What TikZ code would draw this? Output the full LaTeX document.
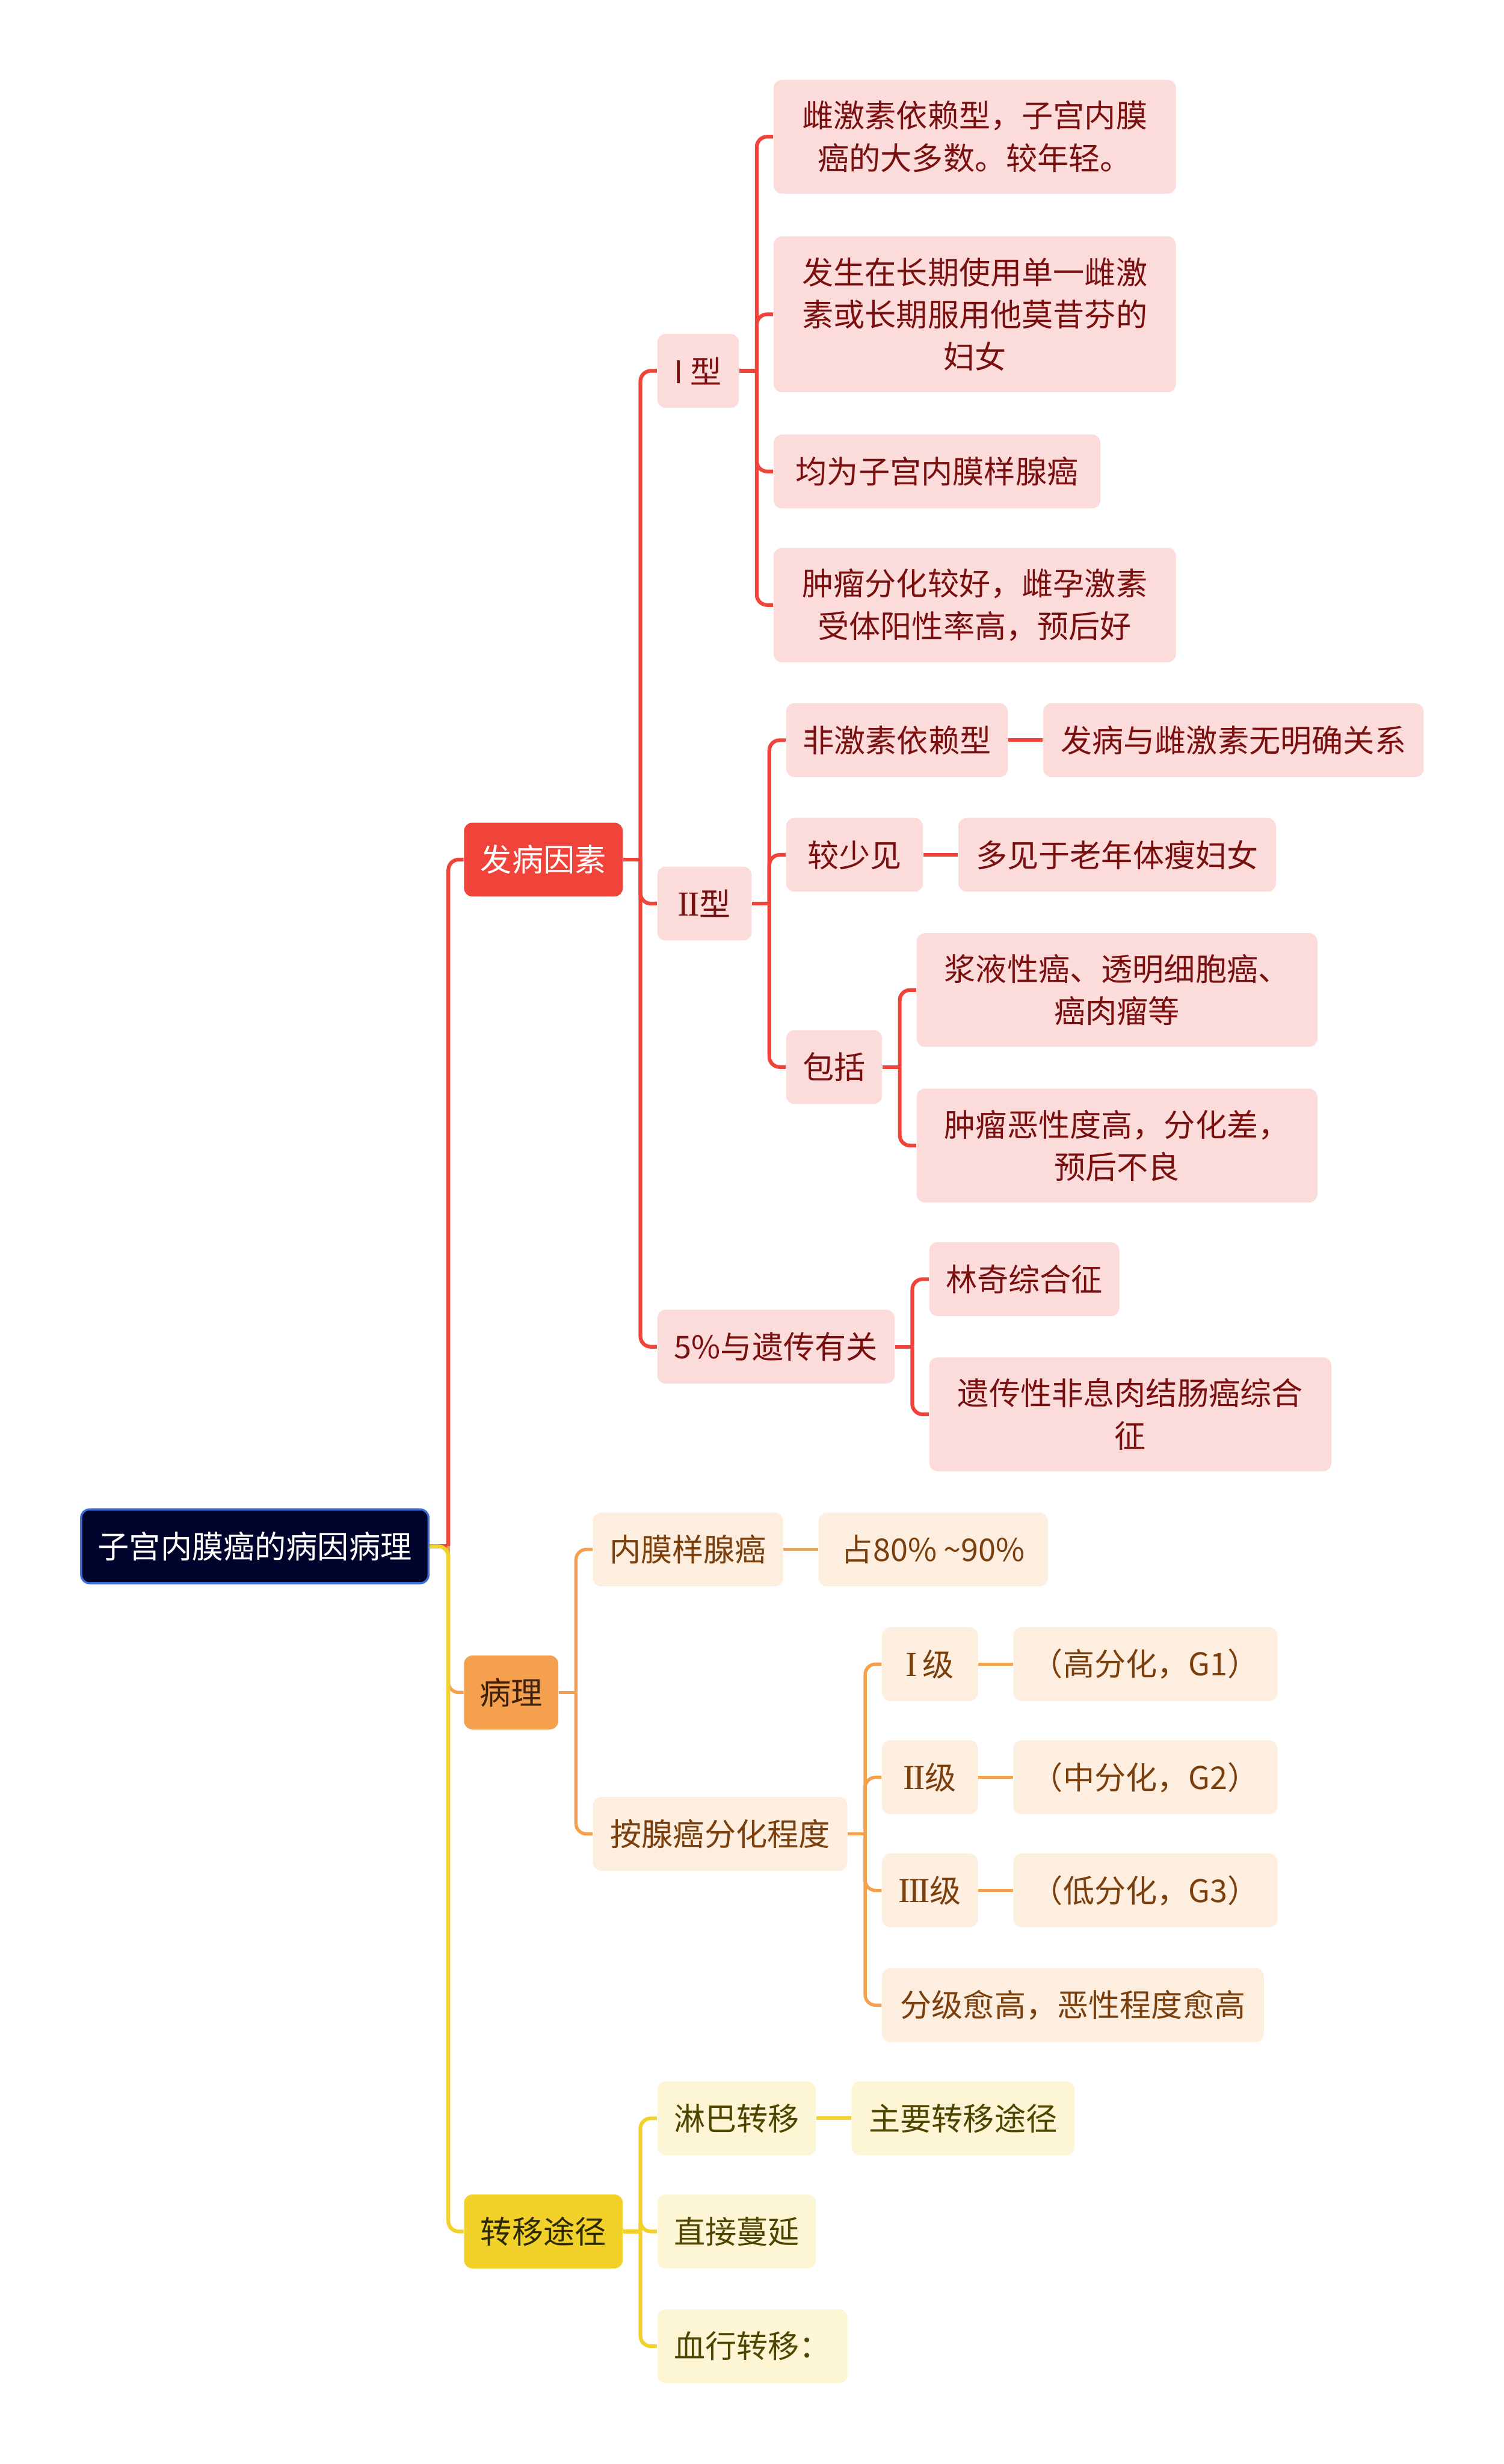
\documentclass[tikz,border=0pt]{standalone}
\usepackage{fontspec}
\setmainfont{Noto Sans CJK SC}
\newfontfamily\romanfont{Liberation Serif}
\newcommand\romnum[1]{{\romanfont\fontsize{17}{20.5}\selectfont #1}}
\usetikzlibrary{positioning}

\definecolor{rootfill}{HTML}{00042C}
\definecolor{rootedge}{HTML}{3B6FD6}
\definecolor{redmain}{HTML}{F0443A}
\definecolor{redlight}{HTML}{FCDBDB}
\definecolor{redtext}{HTML}{7A0F0F}
\definecolor{orgmain}{HTML}{F5A04E}
\definecolor{orglight}{HTML}{FDEEDF}
\definecolor{orgtext}{HTML}{7A3F0C}
\definecolor{orgdark}{HTML}{3E2106}
\definecolor{ylwmain}{HTML}{F2D12A}
\definecolor{ylwlight}{HTML}{FDF6D4}
\definecolor{ylwtext}{HTML}{4F4500}
\definecolor{ylwdark}{HTML}{2E2A00}

\begin{document}
\begin{tikzpicture}[
  x=0.02675cm, y=-0.02675cm,
  node distance=5.9mm,
  wd/.style={minimum width=#1*0.02675cm},
  base/.style={rounded corners=4pt, align=center, anchor=west, minimum height=1.257cm,
    inner xsep=0pt, inner ysep=0.36cm, font=\fontsize{15.2}{20.5}\selectfont},
  rootbox/.style={base, fill=rootfill, draw=rootedge, line width=1pt, text=white},
  redtop/.style={base, fill=redmain, text=white},
  redbox/.style={base, fill=redlight, text=redtext},
  orgtop/.style={base, fill=orgmain, text=orgdark},
  orgbox/.style={base, fill=orglight, text=orgtext},
  ylwtop/.style={base, fill=ylwmain, text=ylwdark},
  ylwbox/.style={base, fill=ylwlight, text=ylwtext},
  redline/.style={draw=redmain, line width=1.8pt},
  orgline/.style={draw=orgmain, line width=1.6pt},
  ylwline/.style={draw=ylwmain, line width=1.8pt},
  elbow/.style={rounded corners=5pt}
]
\useasboundingbox (0,0) rectangle (957,1568);

% root and main branches
\node[rootbox, wd=221] (root) at (51,984) {子宫内膜癌的病因病理};
\node[redtop, wd=101] (cause) at (295,547) {发病因素};
\node[orgtop, wd=60] (patho) at (295,1077) {病理};
\node[ylwtop, wd=101] (spread) at (295,1420) {转移途径};

% causes
\node[redbox, wd=52] (type1) at (418,236) {I 型};
\node[redbox, wd=60] (type2) at (418,575) {\romnum{I\kern-0.05em I}型};
\node[redbox, wd=151] (gene) at (418,857) {5\%与遗传有关};

\node[redbox, wd=256] (estro) at (492,87) {雌激素依赖型，子宫内膜\\癌的大多数。较年轻。};
\node[redbox, wd=256] (longuse) at (492,200) {发生在长期使用单一雌激\\素或长期服用他莫昔芬的\\妇女};
\node[redbox, wd=208] (endo) at (492,300) {均为子宫内膜样腺癌};
\node[redbox, wd=256] (wellgood) at (492,385) {肿瘤分化较好，雌孕激素\\受体阳性率高，预后好};

\node[redbox, wd=141] (nonhorm) at (500,471) {非激素依赖型};
\node[redbox, wd=242, right=of nonhorm] (norel) {发病与雌激素无明确关系};
\node[redbox, wd=87] (rare) at (500,544) {较少见};
\node[redbox, wd=202, right=of rare] (elderly) {多见于老年体瘦妇女};
\node[redbox, wd=61] (incl) at (500,679) {包括};
\node[redbox, wd=255] (serous) at (583,630) {浆液性癌、透明细胞癌、\\癌肉瘤等};
\node[redbox, wd=255] (poor) at (583,729) {肿瘤恶性度高，分化差，\\预后不良};

\node[redbox, wd=121] (lynch) at (591,814) {林奇综合征};
\node[redbox, wd=256] (hnpcc) at (591,900) {遗传性非息肉结肠癌综合\\征};

% pathology
\node[orgbox, wd=121] (adeno) at (377,986) {内膜样腺癌};
\node[orgbox, wd=146, right=of adeno] (share) {占80\% \textasciitilde{}90\%};
\node[orgbox, wd=162] (grade) at (377,1167) {按腺癌分化程度};
\node[orgbox, wd=61] (g1) at (561,1059) {\romnum{I}\,级};
\node[orgbox, wd=168, right=of g1] (g1d) {（高分化，G1）};
\node[orgbox, wd=61] (g2) at (561,1131) {\romnum{I\kern-0.05em I}级};
\node[orgbox, wd=168, right=of g2] (g2d) {（中分化，G2）};
\node[orgbox, wd=61] (g3) at (561,1203) {\romnum{I\kern-0.05em I\kern-0.05em I}级};
\node[orgbox, wd=168, right=of g3] (g3d) {（低分化，G3）};
\node[orgbox, wd=243] (higher) at (561,1276) {分级愈高，恶性程度愈高};

% spread
\node[ylwbox, wd=101] (lymph) at (418,1348) {淋巴转移};
\node[ylwbox, wd=142, right=of lymph] (mainway) {主要转移途径};
\node[ylwbox, wd=101] (direct) at (418,1420) {直接蔓延};
\node[ylwbox, wd=121] (blood) at (418,1493) {血行转移：};

% connectors
\draw[redline] (root.east) -- ++(12,0) coordinate (rootj);
\draw[redline, elbow] (rootj) |- (cause.west);
\draw[orgline, elbow] (rootj) |- (patho.west);
\draw[ylwline, elbow] (root.east) -- (rootj) |- (spread.west);

\draw[redline] (cause.east) -- ++(11,0) coordinate (causej);
\draw[redline, elbow] (causej) |- (type1.west);
\draw[redline, elbow] (causej) |- (type2.west);
\draw[redline, elbow] (causej) |- (gene.west);

\draw[redline] (type1.east) -- ++(11,0) coordinate (type1j);
\draw[redline, elbow] (type1j) |- (estro.west);
\draw[redline, elbow] (type1j) |- (longuse.west);
\draw[redline, elbow] (type1j) |- (endo.west);
\draw[redline, elbow] (type1j) |- (wellgood.west);

\draw[redline] (type2.east) -- ++(11,0) coordinate (type2j);
\draw[redline, elbow] (type2j) |- (nonhorm.west);
\draw[redline, elbow] (type2j) |- (rare.west);
\draw[redline, elbow] (type2j) |- (incl.west);
\draw[redline] (nonhorm) -- (norel);
\draw[redline] (rare) -- (elderly);

\draw[redline] (incl.east) -- ++(11,0) coordinate (inclj);
\draw[redline, elbow] (inclj) |- (serous.west);
\draw[redline, elbow] (inclj) |- (poor.west);

\draw[redline] (gene.east) -- ++(11,0) coordinate (genej);
\draw[redline, elbow] (genej) |- (lynch.west);
\draw[redline, elbow] (genej) |- (hnpcc.west);

\draw[orgline] (patho.east) -- ++(11,0) coordinate (pathoj);
\draw[orgline, elbow] (pathoj) |- (adeno.west);
\draw[orgline, elbow] (pathoj) |- (grade.west);
\draw[orgline] (adeno) -- (share);

\draw[orgline] (grade.east) -- ++(11,0) coordinate (gradej);
\draw[orgline, elbow] (gradej) |- (g1.west);
\draw[orgline, elbow] (gradej) |- (g2.west);
\draw[orgline, elbow] (gradej) |- (g3.west);
\draw[orgline, elbow] (gradej) |- (higher.west);
\draw[orgline] (g1) -- (g1d);
\draw[orgline] (g2) -- (g2d);
\draw[orgline] (g3) -- (g3d);

\draw[ylwline] (spread.east) -- ++(11,0) coordinate (spreadj);
\draw[ylwline, elbow] (spreadj) |- (lymph.west);
\draw[ylwline, elbow] (spreadj) |- (direct.west);
\draw[ylwline, elbow] (spreadj) |- (blood.west);
\draw[ylwline] (lymph) -- (mainway);
\end{tikzpicture}
\end{document}
